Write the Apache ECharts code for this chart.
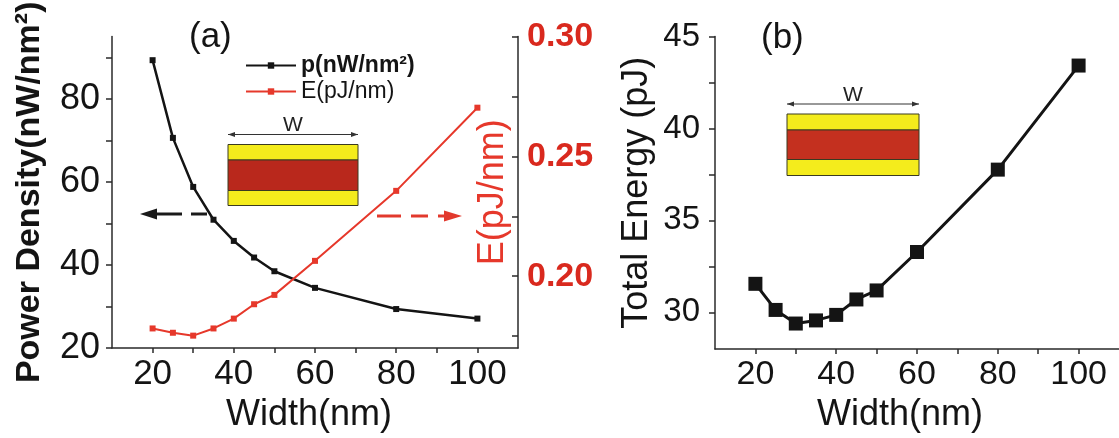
<!DOCTYPE html>
<html>
<head>
<meta charset="utf-8">
<title>Power density and energy vs. width</title>
<script src="https://cdn.jsdelivr.net/npm/echarts@6/dist/echarts.min.js"></script>
<style>
  html, body { margin: 0; padding: 0; background: #ffffff; }
  #chart { width: 1119px; height: 438px; }
</style>
</head>
<body>
<div id="chart"></div>
<script>
// Device width (nm) at which each quantity was computed
const widths = [20, 25, 30, 35, 40, 45, 50, 60, 80, 100];
// (a) power density, nW/nm^2 (left axis)
const powerDensity = [89.3, 70.6, 58.8, 50.9, 45.8, 41.8, 38.5, 34.5, 29.4, 27.1];
// (a) energy per unit length, pJ/nm (right axis)
const energyPerLength = [0.1782, 0.1764, 0.1752, 0.1782, 0.1823, 0.1883, 0.1922, 0.2064, 0.2356, 0.2703];
// (b) total energy, pJ
const totalEnergy = [31.55, 30.13, 29.39, 29.56, 29.86, 30.70, 31.19, 33.28, 37.76, 43.42];

// Tick labels and tick marks
const widthLabels = [20, 40, 60, 80, 100];
const widthTicks = [20, 30, 40, 50, 60, 70, 80, 90, 100];
const densityLabels = [20, 40, 60, 80];
const densityTicks = [20, 30, 40, 50, 60, 70, 80, 90];
const energyLabels = [0.20, 0.25, 0.30];
const energyTicks = [0.175, 0.20, 0.225, 0.25, 0.275, 0.30];
const totalLabels = [30, 35, 40, 45];
const totalTicks = [30, 32.5, 35, 37.5, 40, 42.5, 45];

const FONT = '"Liberation Sans", Arial, Helvetica, sans-serif';
const AXIS_COLOR = '#2a2a2a';
const RED = '#e6382b';
const RED_TEXT = '#d9291e';
const INK = '#141414';

const chart = echarts.init(document.getElementById('chart'), null, { renderer: 'canvas' });

function pairs(ys) { return widths.map((w, i) => [w, ys[i]]); }

function axisLine() { return { show: true, onZero: false, lineStyle: { color: AXIS_COLOR, width: 1.5 } }; }

const xAxisBase = (gridIndex, fontSize, padRight) => ({
  type: 'value', gridIndex, min: 10, max: 110,
  name: 'Width(nm)', nameLocation: 'middle', nameGap: 43,
  nameTextStyle: { fontFamily: FONT, fontSize: 36, color: INK, padding: [0, padRight, 0, 0] },
  axisLine: axisLine(),
  axisTick: { show: true, customValues: widthTicks, length: 5, lineStyle: { color: AXIS_COLOR, width: 1.5 } },
  axisLabel: { customValues: widthLabels, margin: 9, fontFamily: FONT, fontSize, color: INK },
  splitLine: { show: false }
});

const option = {
  animation: false,
  backgroundColor: '#ffffff',
  textStyle: { fontFamily: FONT },
  title: [
    { text: '(a)', left: 189, top: 20, padding: 0,
      textStyle: { fontFamily: FONT, fontSize: 35, fontWeight: 'normal', color: INK } },
    { text: '(b)', left: 761, top: 21, padding: 0,
      textStyle: { fontFamily: FONT, fontSize: 35, fontWeight: 'normal', color: INK } }
  ],
  legend: {
    orient: 'vertical', left: 240, top: 49, itemGap: 3,
    itemWidth: 50, itemHeight: 8,
    textStyle: { fontFamily: FONT, fontSize: 23, color: INK },
    data: [
      { name: 'p(nW/nm²)', textStyle: { fontWeight: 'bold' } },
      { name: 'E(pJ/nm)' }
    ]
  },
  grid: [
    { left: 112, right: 601, top: 36.5, bottom: 77, containLabel: false },
    { left: 715, right: -5, top: 36.5, bottom: 78, containLabel: false }
  ],
  xAxis: [
    xAxisBase(0, 35, 12),
    xAxisBase(1, 34, 34)
  ],
  yAxis: [
    {
      type: 'value', gridIndex: 0, position: 'left', min: 20, max: 95,
      name: 'Power Density(nW/nm²)', nameLocation: 'middle', nameGap: 65,
      nameTextStyle: { fontFamily: FONT, fontSize: 34, fontWeight: 'bold', color: INK },
      axisLine: axisLine(),
      axisTick: { show: true, customValues: densityTicks, length: 6, lineStyle: { color: AXIS_COLOR, width: 1.5 } },
      axisLabel: { customValues: densityLabels, margin: 12, fontFamily: FONT, fontSize: 36, color: INK },
      splitLine: { show: false }
    },
    {
      type: 'value', gridIndex: 0, position: 'right', min: 0.17, max: 0.30,
      name: 'E(pJ/nm)', nameLocation: 'middle', nameGap: -43,
      nameTextStyle: { fontFamily: FONT, fontSize: 36, color: RED },
      axisLine: axisLine(),
      axisTick: { show: true, inside: true, customValues: energyTicks, length: 6, lineStyle: { color: AXIS_COLOR, width: 1.5 } },
      axisLabel: { customValues: energyLabels, margin: 9, fontFamily: FONT, fontSize: 34, fontWeight: 'bold', color: RED_TEXT,
        formatter: v => v.toFixed(2) },
      splitLine: { show: false }
    },
    {
      type: 'value', gridIndex: 1, position: 'left', min: 28, max: 45,
      name: 'Total Energy (pJ)', nameLocation: 'middle', nameGap: 60,
      nameTextStyle: { fontFamily: FONT, fontSize: 36, color: INK },
      axisLine: axisLine(),
      axisTick: { show: true, customValues: totalTicks, length: 6, lineStyle: { color: AXIS_COLOR, width: 1.5 } },
      axisLabel: { customValues: totalLabels, margin: 15, fontFamily: FONT, fontSize: 33, color: INK },
      splitLine: { show: false }
    }
  ],
  series: [
    {
      name: 'p(nW/nm²)', type: 'line', xAxisIndex: 0, yAxisIndex: 0,
      data: pairs(powerDensity),
      symbol: 'rect', symbolSize: 6,
      lineStyle: { color: INK, width: 2.5 },
      itemStyle: { color: INK }
    },
    {
      name: 'E(pJ/nm)', type: 'line', xAxisIndex: 0, yAxisIndex: 1,
      data: pairs(energyPerLength),
      symbol: 'rect', symbolSize: 6,
      lineStyle: { color: RED, width: 2 },
      itemStyle: { color: RED }
    },
    {
      name: 'Total Energy', type: 'line', xAxisIndex: 1, yAxisIndex: 2,
      data: pairs(totalEnergy),
      symbol: 'rect', symbolSize: 14,
      lineStyle: { color: INK, width: 3 },
      itemStyle: { color: INK }
    }
  ]
};

// Cross-section sketch: yellow / red / yellow stack with a width arrow above it
function stackSketch(x0, x1, yTop, yMid1, yMid2, yBot, redColor) {
  const border = { stroke: '#3a3a20', lineWidth: 1 };
  const arrowY = yTop - 10;
  const head = 7;
  return {
    type: 'group', silent: true,
    children: [
      { type: 'rect', shape: { x: x0, y: yTop, width: x1 - x0, height: yMid1 - yTop }, style: Object.assign({ fill: '#f4ec1c' }, border) },
      { type: 'rect', shape: { x: x0, y: yMid1, width: x1 - x0, height: yMid2 - yMid1 }, style: Object.assign({ fill: redColor }, border) },
      { type: 'rect', shape: { x: x0, y: yMid2, width: x1 - x0, height: yBot - yMid2 }, style: Object.assign({ fill: '#f4ec1c' }, border) },
      { type: 'line', shape: { x1: x0, y1: arrowY, x2: x1, y2: arrowY }, style: { stroke: '#333', lineWidth: 1 } },
      { type: 'polygon', shape: { points: [[x0, arrowY], [x0 + head, arrowY - 2.5], [x0 + head, arrowY + 2.5]] }, style: { fill: '#333' } },
      { type: 'polygon', shape: { points: [[x1, arrowY], [x1 - head, arrowY - 2.5], [x1 - head, arrowY + 2.5]] }, style: { fill: '#333' } },
      { type: 'text', x: (x0 + x1) / 2, y: arrowY - 9,
        style: { text: 'W', fontFamily: FONT, fontSize: 21, fill: '#222', align: 'center', verticalAlign: 'middle' } }
    ]
  };
}

// Dashed pointers telling which axis each curve belongs to
function dashedPointer(segments, tipX, baseX, y, color) {
  const kids = segments.map(s => ({
    type: 'line', shape: { x1: s[0], y1: y, x2: s[1], y2: y }, style: { stroke: color, lineWidth: 3 }
  }));
  kids.push({ type: 'polygon', shape: { points: [[tipX, y], [baseX, y - 5.5], [baseX, y + 5.5]] }, style: { fill: color } });
  return { type: 'group', silent: true, children: kids };
}

option.graphic = [
  stackSketch(228, 358, 144.5, 160, 190.5, 205.5, '#b9281c'),
  stackSketch(787, 919, 114, 130, 159.5, 175.5, '#c4301f'),
  dashedPointer([[152, 182], [191, 207]], 140, 157, 214, '#1a1a1a'),
  dashedPointer([[377, 401], [411, 428], [438, 446]], 462, 444, 216, '#e2392d')
];

chart.setOption(option);
</script>
</body>
</html>
